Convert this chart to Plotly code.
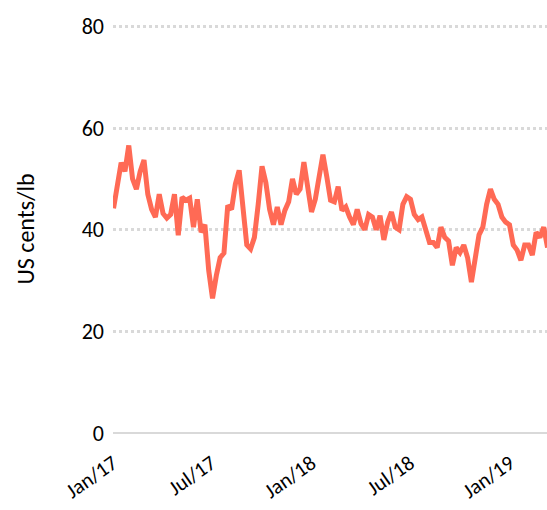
import pandas as pd
import plotly.graph_objects as go

# Weekly price series (US cents/lb), starting first week of January 2017
start_date = "2017-01-02"
prices = [
    44.2, 49.3, 53.2, 51.5, 56.6, 50.0, 48.0, 51.5, 53.7, 47.0,
    44.0, 42.5, 47.0, 43.2, 42.3, 43.0, 47.0, 38.9, 46.4, 45.8,
    46.2, 40.5, 46.0, 39.5, 41.0, 32.0, 26.5, 31.0, 34.5, 35.4,
    44.8, 44.0, 49.0, 51.7, 45.0, 37.0, 36.2, 38.5, 45.0, 52.5,
    49.3, 44.0, 41.0, 44.5, 41.0, 43.8, 45.5, 50.0, 47.0, 48.0,
    53.3, 49.0, 43.5, 46.0, 50.5, 54.8, 50.5, 45.8, 45.5, 48.5,
    43.8, 44.5, 42.5, 41.0, 44.0, 41.2, 40.0, 43.0, 42.5, 40.0,
    42.8, 38.0, 41.5, 43.5, 40.5, 40.0, 45.0, 46.5, 46.0, 43.0,
    42.0, 42.5, 40.0, 37.5, 37.5, 36.5, 40.5, 38.5, 37.8, 33.0,
    36.5, 35.5, 37.0, 34.5, 29.7, 35.0, 39.0, 40.5, 45.0, 48.0,
    46.0, 45.0, 42.5, 41.5, 41.0, 37.0, 36.0, 34.0, 37.0, 37.0,
    35.0, 39.5, 38.5, 40.5, 36.5,
]
tick_dates = ["2017-01-01", "2017-07-01", "2018-01-01", "2018-07-01", "2019-01-01"]
tick_labels = ["Jan/17", "Jul/17", "Jan/18", "Jul/18", "Jan/19"]
y_ticks = [0, 20, 40, 60, 80]

dates = pd.date_range(start_date, periods=len(prices), freq="7D")

FONT = "Carlito, Calibri, Lato, sans-serif"

fig = go.Figure()
fig.add_trace(go.Scatter(
    x=dates, y=prices, mode="lines",
    line=dict(color="#FF6A55", width=5),
    hoverinfo="skip", showlegend=False,
))

fig.update_layout(
    width=547, height=510,
    margin=dict(l=113, r=0, t=25, b=77),
    paper_bgcolor="white", plot_bgcolor="white",
    font=dict(family=FONT, color="#000000"),
)
fig.update_xaxes(
    range=["2017-01-01", "2019-03-10"],
    tickvals=tick_dates, ticktext=tick_labels,
    tickangle=-35, tickfont=dict(size=21, family=FONT),
    showgrid=False, showline=False, zeroline=False, ticks="",
    ticklabelstandoff=13, automargin=False,
)
fig.update_yaxes(
    range=[0, 80.3], tickvals=y_ticks,
    tickfont=dict(size=22, family=FONT),
    showgrid=True, gridcolor="#D9D9D9", gridwidth=3, griddash="dot",
    zeroline=True, zerolinecolor="#D9D9D9", zerolinewidth=2,
    showline=False, ticks="", ticklabelstandoff=8, automargin=False,
    title=dict(text="US cents/lb", font=dict(size=24, family=FONT), standoff=40),
)

fig.write_html(
    "out.html",
    config={"displayModeBar": False},
    post_script="document.body.style.margin='0';document.body.style.overflow='hidden';",
)
